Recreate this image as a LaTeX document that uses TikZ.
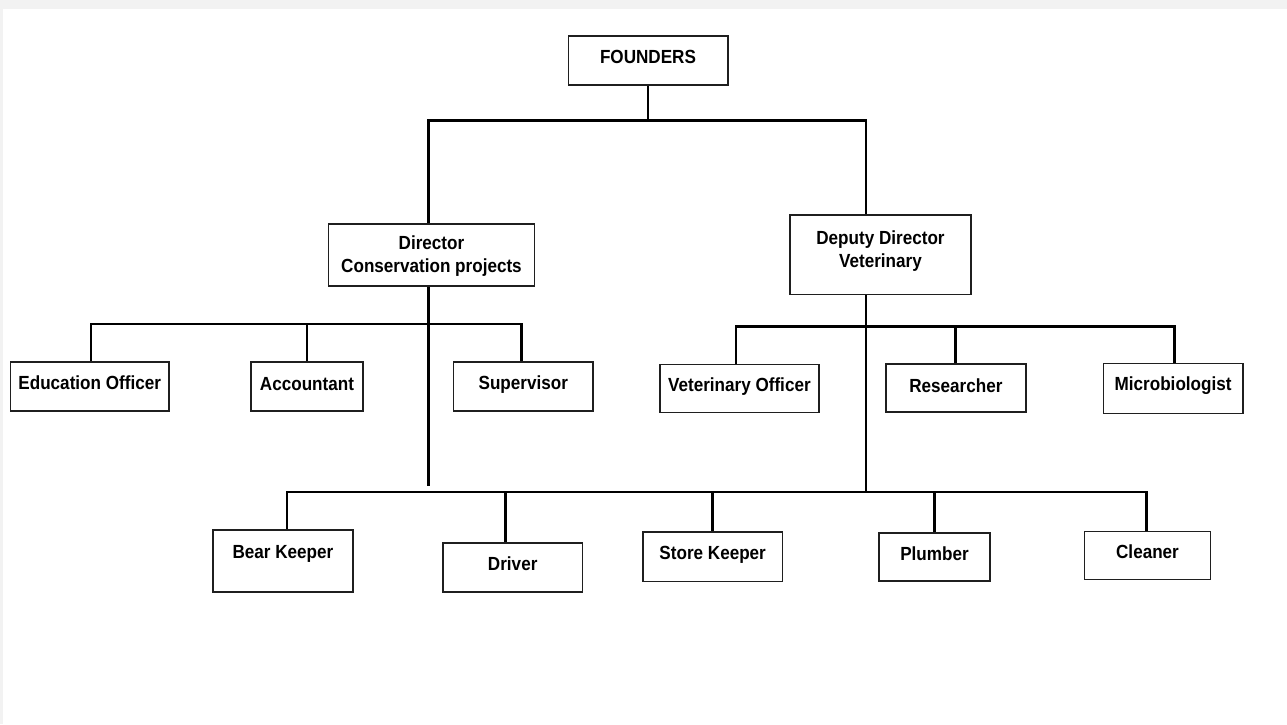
\documentclass[tikz,border=0pt]{standalone}
\usepackage{fontspec}
\setmainfont{Liberation Sans}[FakeStretch=0.9]
\newcommand{\mybx}[2]{\raisebox{#1}[0pt][0pt]{#2}}
\definecolor{bggray}{HTML}{F2F2F2}
\begin{document}
\begin{tikzpicture}[x=1pt,y=-1pt,
  box/.style={draw=black!88, line width=1.6pt, fill=white, inner sep=0pt,
    font=\fontsize{19}{23.5}\selectfont\bfseries},
  conn/.style={line width=2.9pt, draw=black}]
\fill[bggray] (0,0) rectangle (1287,724);
\fill[white] (3,9) rectangle (1287,724);
\useasboundingbox (0,0) rectangle (1287,724);

% top
\node[box, minimum width=159.4pt, minimum height=49pt] (f) at (648,60.5) {\mybx{-3.3pt}{FOUNDERS}};
\node[box, minimum width=205.8pt, minimum height=62pt] (dir) at (431.5,255) {\mybx{-17.8pt}{\begin{tabular}[b]{@{}c@{}}Director\\Conservation projects\end{tabular}}};
\node[box, minimum width=181.5pt, minimum height=79.3pt] (dep) at (880.5,254.7) {\mybx{-13.1pt}{\begin{tabular}[b]{@{}c@{}}Deputy Director\\Veterinary\end{tabular}}};

% second row
\node[box, minimum width=158.6pt, minimum height=49pt] (edu) at (89.7,386.5) {\mybx{-3.3pt}{Education Officer}};
\node[box, minimum width=112pt, minimum height=49pt] (acc) at (307,386.5) {\mybx{-3.6pt}{Accountant}};
\node[box, minimum width=139.4pt, minimum height=49pt] (sup) at (523.3,386.5) {\mybx{-3.3pt}{Supervisor}};
\node[box, minimum width=158.7pt, minimum height=48pt] (vet) at (739.4,388.3) {\mybx{-3.5pt}{Veterinary Officer}};
\node[box, minimum width=139.8pt, minimum height=48pt] (res) at (955.9,388) {\mybx{-4pt}{Researcher}};
\node[box, minimum width=139.4pt, minimum height=50pt] (mic) at (1173.1,388.3) {\mybx{-2.5pt}{Microbiologist}};

% bottom row
\node[box, minimum width=140pt, minimum height=62pt] (bear) at (283,561) {\mybx{2.2pt}{Bear Keeper}};
\node[box, minimum width=139.5pt, minimum height=49pt] (drv) at (512.7,567.5) {\mybx{-3.3pt}{Driver}};
\node[box, minimum width=139.4pt, minimum height=49.7pt] (sto) at (712.7,556.8) {\mybx{-3pt}{Store Keeper}};
\node[box, minimum width=111pt, minimum height=48pt] (plu) at (934.5,557) {\mybx{-3.8pt}{Plumber}};
\node[box, minimum width=126.3pt, minimum height=48pt] (cle) at (1147.5,555.3) {\mybx{-3.5pt}{Cleaner}};

% connectors: founders level
\coordinate (b1L) at (428.6,120.7);
\coordinate (b1R) at (866,120.7);
\draw[conn] (f.south) -- (f.south |- b1L);
\draw[conn] (dir.north -| b1L) -- (b1L) -- (b1R) -- (dep.north -| b1R);

% director children
\coordinate (b2L) at (91,324);
\coordinate (b2R) at (521.6,324);
\draw[conn] (edu.north -| b2L) -- (b2L) -- (b2R) -- (sup.north -| b2R);
\draw[conn] (acc.north) -- (acc.north |- b2L);
\coordinate (dirEnd) at (428.6,486);
\draw[conn] (dir.south -| dirEnd) -- (dirEnd);

% deputy children
\coordinate (b3L) at (736,326.7);
\coordinate (b3R) at (1174.8,326.7);
\draw[conn] (vet.north -| b3L) -- (b3L) -- (b3R) -- (mic.north -| b3R);
\draw[conn] (res.north) -- (res.north |- b3L);

% bottom bar
\coordinate (b4L) at (287,492);
\coordinate (b4R) at (1146.3,492);
\draw[conn] (dep.south -| b1R) -- (b1R |- b4L);
\draw[conn] (bear.north -| b4L) -- (b4L) -- (b4R) -- (cle.north -| b4R);
\coordinate (jDrv) at (505.4,492);
\draw[conn] (jDrv) -- (drv.north -| jDrv);
\draw[conn] (sto.north) -- (sto.north |- b4L);
\draw[conn] (plu.north) -- (plu.north |- b4L);
\end{tikzpicture}
\end{document}
